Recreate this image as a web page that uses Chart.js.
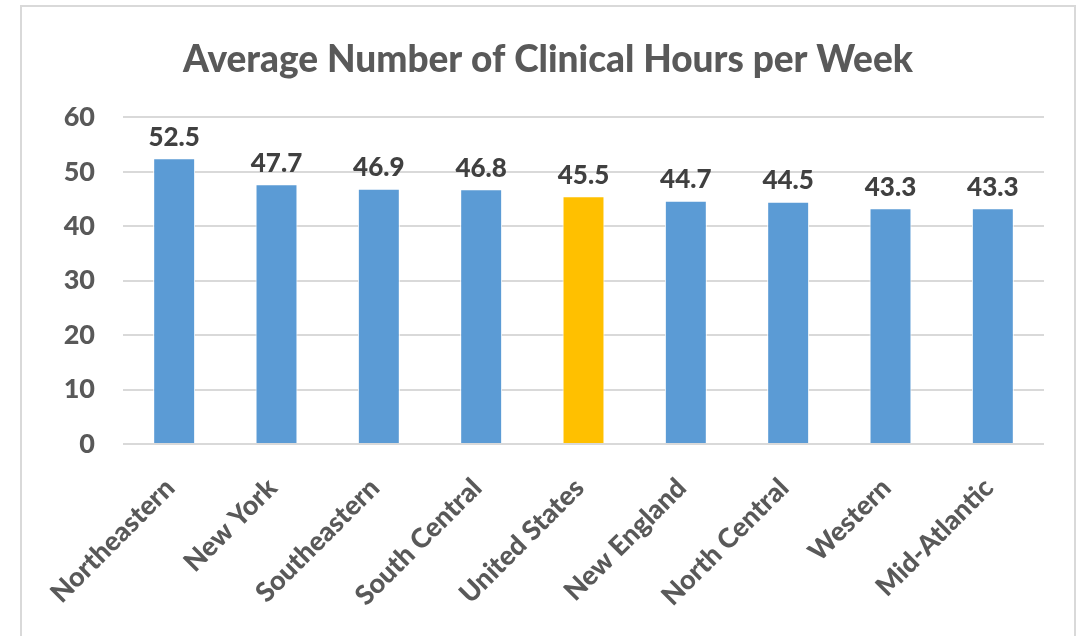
<!DOCTYPE html>
<html>
<head>
<meta charset="utf-8">
<script src="https://cdn.jsdelivr.net/npm/chart.js@4"></script>
<style>
  body{margin:0;background:#fff;}
  #wrap{position:relative;width:1079px;height:636px;overflow:hidden;}
  #frame{position:absolute;left:20px;top:5px;width:1052px;height:660px;border:2px solid #d9d9d9;}
  canvas{position:absolute;left:0;top:0;}
</style>
</head>
<body>
<div id="wrap">
  <div id="frame"></div>
  <canvas id="chart" width="1079" height="636"></canvas>
</div>
<script>
// datos
const regiones = ['Northeastern','New York','Southeastern','South Central','United States','New England','North Central','Western','Mid-Atlantic'];
const horas = [52.5, 47.7, 46.9, 46.8, 45.5, 44.7, 44.5, 43.3, 43.3];
const colores = ['#5B9BD5','#5B9BD5','#5B9BD5','#5B9BD5','#FFC000','#5B9BD5','#5B9BD5','#5B9BD5','#5B9BD5'];
const titulo = 'Average Number of Clinical Hours per Week';

const FONT = 'Lato, "Open Sans", sans-serif';
const GRIS = '#595959';

// etiquetas de valor encima de cada barra
const etiquetas = {
  id: 'etiquetas',
  afterDatasetsDraw(chart){
    const ctx = chart.ctx;
    const meta = chart.getDatasetMeta(0);
    ctx.save();
    ctx.font = '900 26px ' + FONT;
    ctx.fillStyle = '#404040';
    ctx.textAlign = 'center';
    ctx.textBaseline = 'bottom';
    meta.data.forEach((bar, i)=>{
      ctx.fillText(horas[i].toFixed(1), bar.x, bar.y - 8);
    });
    ctx.restore();
  }
};

new Chart(document.getElementById('chart').getContext('2d'), {
  type: 'bar',
  data: {
    labels: regiones,
    datasets: [{
      data: horas,
      backgroundColor: colores,
      borderColor: '#ffffff',
      borderWidth: 1,
      categoryPercentage: 1,
      barPercentage: 0.41
    }]
  },
  options: {
    responsive: false,
    animation: false,
    layout: { padding: { left: 52, right: 35, top: 0, bottom: 0 } },
    plugins: {
      legend: { display: false },
      tooltip: { enabled: false },
      title: {
        display: true,
        text: titulo,
        color: GRIS,
        font: { family: FONT, size: 37, weight: 900 },
        padding: { top: 38, bottom: 35 }
      }
    },
    scales: {
      x: {
        grid: { display: false },
        border: { display: false },
        ticks: {
          color: GRIS,
          font: { family: FONT, size: 27, weight: 900 },
          maxRotation: 45, minRotation: 45,
          padding: 20,
          labelOffset: -4
        },
        afterFit(scale){ scale.height = 192; }
      },
      y: {
        min: 0, max: 60,
        ticks: {
          stepSize: 10,
          color: GRIS,
          font: { family: FONT, size: 27, weight: 900 },
          padding: 28
        },
        grid: { color: '#d9d9d9', lineWidth: 2, drawTicks: false },
        border: { display: false },
        afterFit(scale){ scale.width = 71; }
      }
    }
  },
  plugins: [etiquetas]
});
</script>
</body>
</html>
